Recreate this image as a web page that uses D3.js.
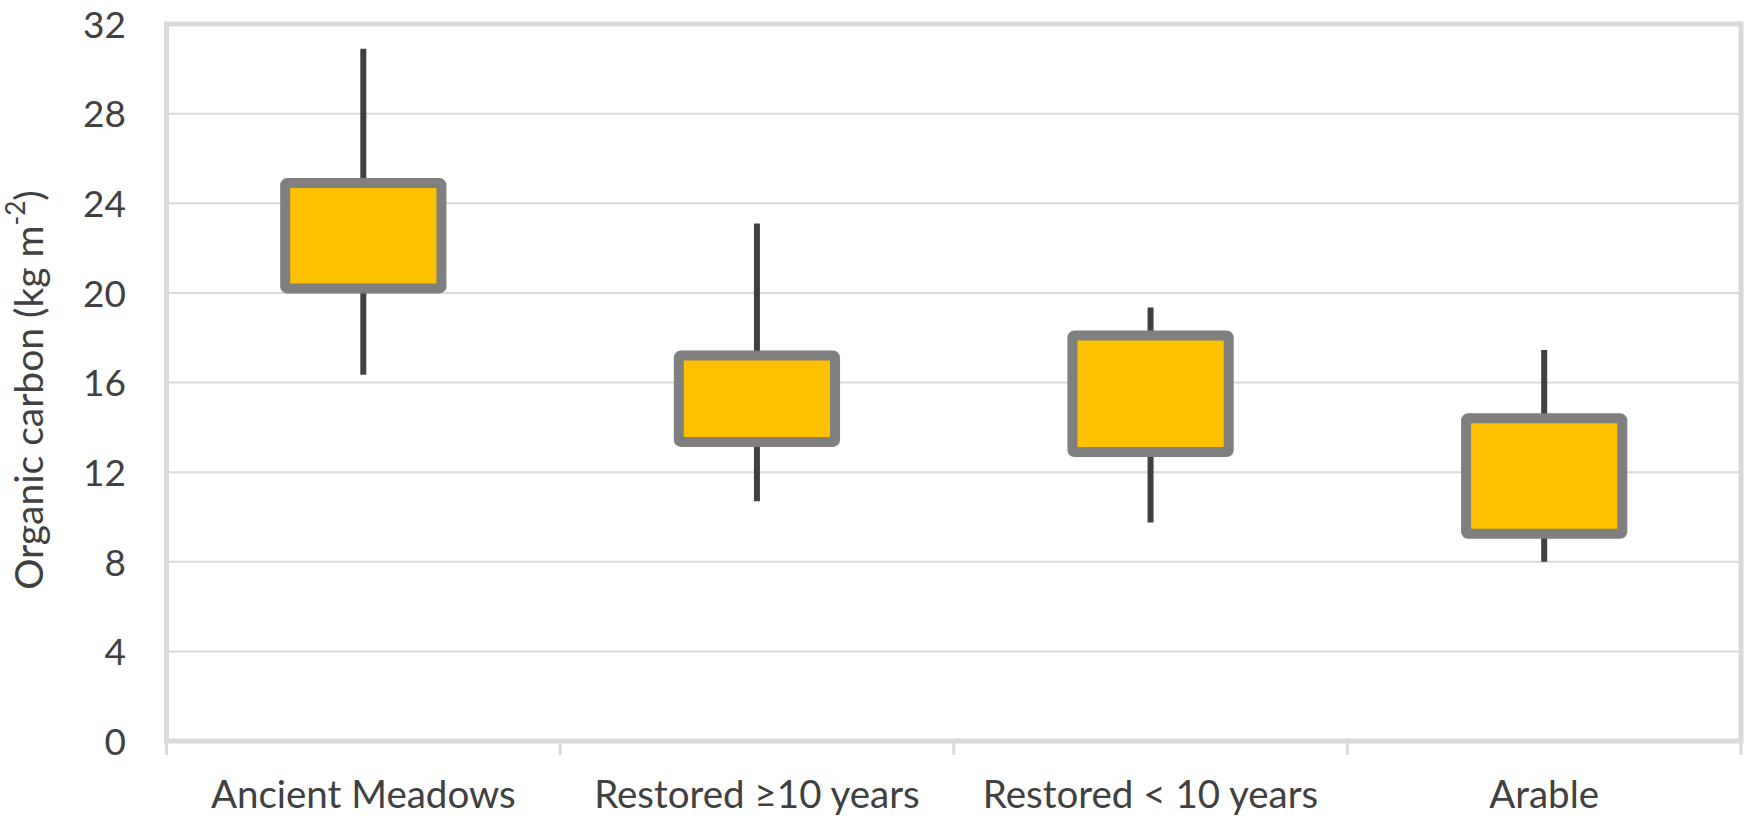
<!DOCTYPE html>
<html>
<head>
<meta charset="utf-8">
<script src="https://cdn.jsdelivr.net/npm/d3@7"></script>
<style>
  html, body { margin: 0; padding: 0; background: #fff; }
  svg text { font-family: Lato, "Open Sans", sans-serif; fill: #404040; }
</style>
</head>
<body>
<svg id="chart" width="1752" height="818"></svg>
<script>
// Soil organic carbon by land-use category (kg m-2)
const categories = ["Ancient Meadows", "Restored \u226510 years", "Restored < 10 years", "Arable"];
const whiskerHigh = [30.9, 23.1, 19.35, 17.45];
const boxHigh     = [24.9, 17.2, 18.1, 14.4];
const boxLow      = [20.2, 13.35, 12.9, 9.25];
const whiskerLow  = [16.35, 10.7, 9.75, 8.0];
const yTicks = [0, 4, 8, 12, 16, 20, 24, 28, 32];

const rows = categories.map((c, i) => ({
  cat: c, hi: whiskerHigh[i], q3: boxHigh[i], q1: boxLow[i], lo: whiskerLow[i]
}));

const svg = d3.select("#chart");
const plotLeft = 166.5, plotRight = 1741, plotTop = 24, plotBottom = 741;

const x = d3.scaleBand().domain(categories).range([plotLeft, plotRight]).padding(0);
const y = d3.scaleLinear().domain([0, 32]).range([plotBottom, plotTop]);

const gridColor = "#d9d9d9";

// horizontal gridlines
svg.append("g")
  .selectAll("line")
  .data(yTicks.filter(t => t > 0 && t < 32))
  .join("line")
  .attr("x1", plotLeft).attr("x2", plotRight)
  .attr("y1", d => y(d)).attr("y2", d => y(d))
  .attr("stroke", gridColor).attr("stroke-width", 2);

// plot frame
svg.append("rect")
  .attr("x", plotLeft).attr("y", plotTop)
  .attr("width", plotRight - plotLeft).attr("height", plotBottom - plotTop)
  .attr("fill", "none")
  .attr("stroke", gridColor).attr("stroke-width", 5);

// y axis labels
const yAxis = d3.axisLeft(y).tickValues(yTicks).tickSize(0).tickPadding(0);
const gy = svg.append("g").attr("transform", "translate(126,0)").call(yAxis);
gy.select(".domain").remove();
gy.selectAll("text")
  .attr("font-size", 37)
  .attr("fill", "#404040")
  .attr("font-family", "Lato, 'Open Sans', sans-serif")
  .attr("dy", "0.36em");

// x axis: ticks at category boundaries
const boundaries = categories.map(c => x(c)).concat([plotRight]);
svg.append("g")
  .selectAll("line")
  .data(boundaries)
  .join("line")
  .attr("x1", d => d).attr("x2", d => d)
  .attr("y1", plotBottom).attr("y2", 755)
  .attr("stroke", gridColor).attr("stroke-width", 3);

const xAxis = d3.axisBottom(x).tickSize(0).tickPadding(0);
const gx = svg.append("g").attr("transform", `translate(0,${plotBottom})`).call(xAxis);
gx.select(".domain").remove();
gx.selectAll("text")
  .attr("font-size", 38.5)
  .attr("fill", "#404040")
  .attr("font-family", "Lato, 'Open Sans', sans-serif")
  .attr("dy", null)
  .attr("y", 67);

// whiskers
const cx = d => x(d.cat) + x.bandwidth() / 2;
svg.append("g")
  .selectAll("line")
  .data(rows)
  .join("line")
  .attr("x1", cx).attr("x2", cx)
  .attr("y1", d => y(d.hi)).attr("y2", d => y(d.lo))
  .attr("stroke", "#404040").attr("stroke-width", 6);

// boxes
const bw = x.bandwidth() * 0.397;
svg.append("g")
  .selectAll("rect")
  .data(rows)
  .join("rect")
  .attr("x", d => cx(d) - bw / 2)
  .attr("width", bw)
  .attr("y", d => y(d.q3))
  .attr("height", d => y(d.q1) - y(d.q3))
  .attr("rx", 2)
  .attr("fill", "#ffc000")
  .attr("stroke", "#7f7f7f").attr("stroke-width", 10)
  .attr("stroke-linejoin", "round");

// y axis title with superscript
const title = svg.append("text")
  .attr("transform", "translate(43,390) rotate(-90)")
  .attr("text-anchor", "middle")
  .attr("font-size", 39);
title.append("tspan").text("Organic carbon (kg m");
title.append("tspan").attr("font-size", 26).attr("dy", "-0.7em").text("-2");
title.append("tspan").attr("dy", "0.47em").text(")");
</script>
</body>
</html>
